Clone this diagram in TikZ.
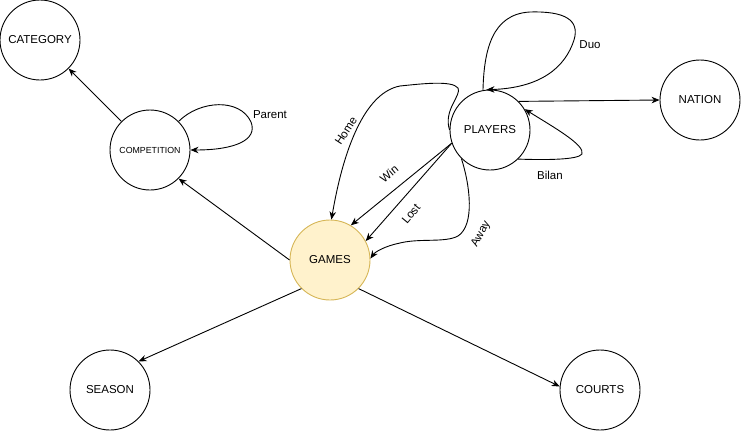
\documentclass[tikz,border=0pt]{standalone}
\usepackage{fontspec}
\setmainfont{Liberation Sans}
\usetikzlibrary{arrows.meta}
\tikzset{
  ent/.style={circle, draw=black, line width=0.9pt, minimum size=80pt, inner sep=0pt, font=\fontsize{11.5}{13}\selectfont},
  hub/.style={ent, fill=gamefill, draw=gamedraw},
  rel/.style={line width=0.9pt, -{Stealth[length=8pt,width=6.5pt,inset=2.5pt]}},
  lbl/.style={font=\fontsize{11.5}{13}\selectfont, inner sep=1pt}
}
\definecolor{gamefill}{HTML}{FFF2CC}
\definecolor{gamedraw}{HTML}{D6B656}
\begin{document}
\begin{tikzpicture}[x=1pt,y=-1pt]
\useasboundingbox (0,0) rectangle (741,431);
\node[ent] (cat) at (40,40) {CATEGORY};
\node[ent, font=\fontsize{8.8}{10}\selectfont] (comp) at (150,150) {COMPETITION};
\node[ent] (players) at (490,130) {PLAYERS};
\node[ent] (nation) at (700,100) {NATION};
\node[hub] (games) at (330,260) {GAMES};
\node[ent] (season) at (110,390) {SEASON};
\node[ent] (courts) at (600,390) {COURTS};

% straight edges
\draw[rel] (comp.135) -- (cat.-45);
\draw[rel] (games.west) -- (comp.-45);
\draw[rel] (games.225) -- (season.45);
\draw[rel] (games.-45) -- (courts.175);
\draw[rel] (players.45) -- (nation.west);
\draw[rel] (players.199) -- (games.59);
\draw[rel] (players.199) -- (games.28);

% Parent loop
\draw[rel] (comp.45) .. controls (200,100) and (240,98) .. (251,122)
  .. controls (258,140) and (235,150) .. (comp.east);
\node[lbl] (lparent) at (270,115) {Parent};

% Duo loop
\draw[rel] (players.100) .. controls (484,50) and (492,14) .. (530,12)
  .. controls (565,11) and (580,20) .. (574,40)
  .. controls (565,68) and (540,88) .. (players.95);
\node[lbl] (lduo) at (590,45) {Duo};

% Bilan loop
\draw[rel] (players.-46) .. controls (545,160) and (578,160) .. (582,154)
  .. controls (585,145) and (555,128) .. (players.31);
\node[lbl] (lbilan) at (550,175) {Bilan};

% Home
\draw[rel] (players.west) .. controls (443,110) and (462,95) .. (458,88)
  .. controls (452,80) and (420,84) .. (400,86)
  .. controls (368,92) and (345,140) .. (games.88);
\node[lbl, rotate=57] (lhome) at (346,131) {Home};

% Away
\draw[rel] (players.225) .. controls (470,185) and (475,225) .. (458,236)
  .. controls (445,243) and (420,238) .. (400,243)
  .. controls (385,246) and (375,252) .. (games.2);
\node[lbl, rotate=62] (laway) at (481,234) {Away};

\node[lbl, rotate=40] (lwin) at (389,174) {Win};
\node[lbl, rotate=50] (llost) at (411,214) {Lost};
\end{tikzpicture}
\end{document}
